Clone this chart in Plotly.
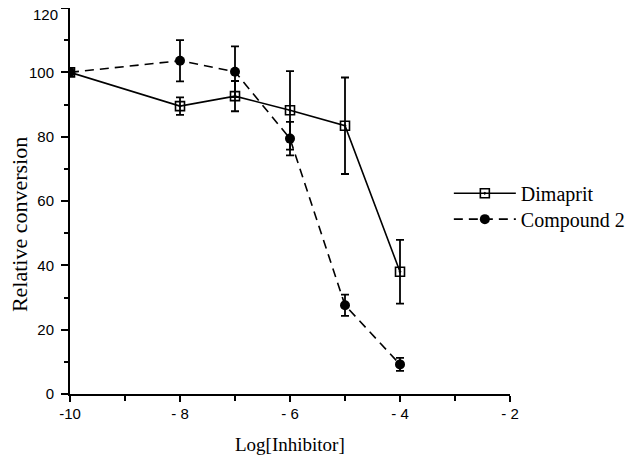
import plotly.graph_objects as go

log_inhibitor = [-10, -8, -7, -6, -5, -4]
dimaprit = [100, 89.5, 92.6, 88.2, 83.4, 38.0]
dimaprit_err = [0, 2.7, 4.7, 12.2, 15.0, 9.9]
compound2 = [100, 103.6, 100.2, 79.4, 27.6, 9.2]
compound2_err = [0, 6.4, 7.9, 5.2, 3.3, 2.0]

x_tick_vals = [-10, -8, -6, -4, -2]
x_tick_text = ["-10", "- 8", "- 6", "- 4", "- 2"]
y_tick_vals = [0, 20, 40, 60, 80, 100]
y_top_tick = [120]

serif = "Liberation Serif, Times New Roman, serif"
sans = "Liberation Sans, Arial, sans-serif"

fig = go.Figure()
fig.add_trace(go.Scatter(
    x=log_inhibitor, y=dimaprit, name="Dimaprit", mode="lines+markers",
    line=dict(color="black", width=1.6),
    marker=dict(symbol="square-open-dot", size=9, color="black", line=dict(width=1.6)),
    error_y=dict(type="data", array=dimaprit_err, color="black", thickness=1.8, width=4),
    legend="legend",
))
fig.add_trace(go.Scatter(
    x=log_inhibitor, y=compound2, name="Compound 2", mode="lines+markers",
    line=dict(color="black", width=1.6, dash="9px,6px"),
    marker=dict(symbol="circle", size=10, color="black"),
    error_y=dict(type="data", array=compound2_err, color="black", thickness=1.8, width=4),
    legend="legend2",
))
# empty helper trace so the overlay axis carrying the top tick label is drawn
fig.add_trace(go.Scatter(x=[], y=[], yaxis="y2", showlegend=False, hoverinfo="skip"))

legend_common = dict(xanchor="left", yanchor="middle",
                     font=dict(family=serif, size=20, color="black"),
                     bgcolor="rgba(0,0,0,0)", itemwidth=62)

tickfont = dict(family=sans, size=15, color="black")

fig.update_layout(
    width=632, height=449,
    margin=dict(l=62, r=130, t=0, b=63),
    paper_bgcolor="white", plot_bgcolor="white",
    showlegend=True,
    legend=dict(x=0.861, y=0.52, **legend_common),
    legend2=dict(x=0.861, y=0.453, **legend_common),
    xaxis=dict(
        range=[-10, -2], tickvals=x_tick_vals, ticktext=x_tick_text,
        automargin=False,
        showgrid=False, zeroline=False, showline=True, linecolor="black", linewidth=2,
        ticks="outside", ticklen=6, tickwidth=2, tickcolor="black",
        minor=dict(dtick=1, ticks="outside", ticklen=5, tickwidth=2, tickcolor="black", showgrid=False),
        tickfont=tickfont,
        ticklabelstandoff=-1, ticklabeloverflow="allow",
    ),
    yaxis=dict(
        range=[0, 120], tickvals=y_tick_vals + y_top_tick, ticktext=[str(v) for v in y_tick_vals] + [""],
        automargin=False,
        showgrid=False, zeroline=False, showline=True, linecolor="black", linewidth=2,
        ticks="outside", ticklen=7, tickwidth=2, tickcolor="black",
        minor=dict(dtick=10, ticks="outside", ticklen=4, tickwidth=2, tickcolor="black", showgrid=False),
        tickfont=tickfont,
        ticklabelstandoff=4, ticklabeloverflow="allow",
    ),
    yaxis2=dict(
        overlaying="y", side="left", range=[0, 120],
        tickvals=y_top_tick, automargin=False,
        showgrid=False, zeroline=False, showline=False, ticks="",
        tickfont=tickfont, ticklabelstandoff=11, ticklabelshift=7,
        ticklabeloverflow="allow",
    ),
    annotations=[
        dict(text="Log[Inhibitor]", xref="paper", yref="paper", x=0.5, y=-0.13,
             xanchor="center", yanchor="middle", showarrow=False,
             font=dict(family=serif, size=19, color="black")),
        dict(text="Relative conversion", xref="paper", yref="paper", x=-0.116, y=0.44,
             xanchor="center", yanchor="middle", showarrow=False, textangle=-90,
             font=dict(family=serif, size=22, color="black")),
    ],
)

fig.write_html("out.html")
